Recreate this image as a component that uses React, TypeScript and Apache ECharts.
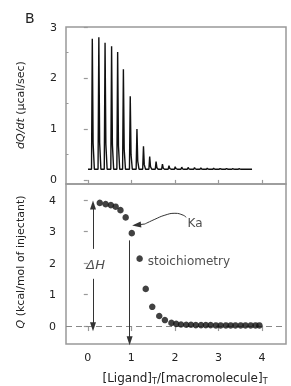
import React, { useEffect, useRef } from "react";
import * as echarts from "echarts";

// Thermogram (top panel): injection peak times (min) and peak heights (µcal/sec)
const spikeTimes = [16.5, 20.6, 24.5, 28.6, 32.4, 36.0, 40.3, 44.5, 48.6, 52.5, 56.5, 60.5, 64.6, 68.5, 72.6, 76.6, 80.6, 84.6, 88.6, 92.6, 96.6, 100.6, 104.6, 108.6];
const spikeHeights = [2.77, 2.8, 2.69, 2.62, 2.51, 2.17, 1.64, 1.0, 0.66, 0.46, 0.36, 0.31, 0.28, 0.26, 0.25, 0.245, 0.24, 0.235, 0.23, 0.23, 0.225, 0.225, 0.22, 0.22];
const baselineLevel = 0.21;
const baselineStart = 13.8;
const baselineEnd = 116.7;

// Binding isotherm (bottom panel)
const molarRatio = [0.275, 0.41, 0.53, 0.64, 0.75, 0.87, 1.01, 1.19, 1.33, 1.48, 1.64, 1.77, 1.92, 2.03, 2.14, 2.26, 2.37, 2.48, 2.6, 2.71, 2.82, 2.94, 3.05, 3.17, 3.28, 3.39, 3.51, 3.62, 3.74, 3.85, 3.94];
const heatQ = [3.91, 3.87, 3.84, 3.79, 3.68, 3.45, 2.95, 2.14, 1.18, 0.61, 0.32, 0.19, 0.1, 0.07, 0.05, 0.04, 0.04, 0.03, 0.03, 0.03, 0.03, 0.02, 0.02, 0.02, 0.02, 0.02, 0.02, 0.02, 0.02, 0.02, 0.02];

// Ka annotation curve
const kaCurve = [[1.31, 3.24], [1.54, 3.39], [1.77, 3.52], [2.0, 3.58], [2.19, 3.52], [2.26, 3.45]];

const ratioTicks = [0, 1, 2, 3, 4];
const dqTicks = [0, 1, 2, 3];
const dqMinorTicks = [0.5, 1.5, 2.5];
const qTicks = [0, 1, 2, 3, 4];

const FONT = "DejaVu Sans, Liberation Sans, Arial, sans-serif";
const TXT = "#222";
const FRAME = "#999";

export default function App() {
  const ref = useRef<HTMLDivElement>(null);
  useEffect(() => {
    if (!ref.current) return;
    const chart = echarts.init(ref.current, undefined, { renderer: "svg" });

    const thermo: number[][] = [[baselineStart, baselineLevel]];
    spikeTimes.forEach((t, i) => {
      const h = spikeHeights[i];
      thermo.push([t - 0.5, baselineLevel], [t, h], [t + 0.5, baselineLevel + (h - baselineLevel) * 0.2], [t + 1.3, baselineLevel]);
    });
    thermo.push([baselineEnd, baselineLevel]);

    const points = molarRatio.map((x, i) => [x, heatQ[i]]);

    const option: any = {
      animation: false,
      textStyle: { fontFamily: FONT },
      grid: [
        { left: 66, top: 27, width: 220, height: 157, show: true, borderColor: FRAME, borderWidth: 1.5, backgroundColor: "transparent" },
        { left: 66, top: 184, width: 220, height: 160, show: true, borderColor: FRAME, borderWidth: 1.5, backgroundColor: "transparent" },
      ],
      xAxis: [
        {
          gridIndex: 0, type: "value", min: -0.5, max: 4.55, position: "bottom",
          axisLine: { show: false }, splitLine: { show: false },
          axisLabel: { show: false },
          axisTick: { show: true, customValues: ratioTicks, length: 5, lineStyle: { color: FRAME, width: 1.2 } },
        },
        { gridIndex: 0, type: "value", min: 0, max: 138, show: false },
        {
          gridIndex: 1, type: "value", min: -0.5, max: 4.55, position: "bottom",
          axisLine: { show: false }, splitLine: { show: false },
          axisTick: { show: true, customValues: ratioTicks, length: 5, lineStyle: { color: FRAME, width: 1.2 } },
          axisLabel: { customValues: ratioTicks, margin: 8, fontSize: 11, color: TXT, fontFamily: FONT },
        },
      ],
      yAxis: [
        {
          gridIndex: 0, type: "value", min: -0.08, max: 3,
          axisLine: { show: false }, splitLine: { show: false },
          axisTick: { show: true, customValues: dqTicks, length: 4, lineStyle: { color: FRAME, width: 1.2 } },
          axisLabel: { customValues: dqTicks, margin: 9, fontSize: 11, color: TXT, fontFamily: FONT },
        },
        {
          gridIndex: 0, type: "value", min: -0.08, max: 3,
          axisLine: { show: false }, splitLine: { show: false },
          axisTick: { show: true, customValues: dqMinorTicks, length: 2.5, lineStyle: { color: FRAME, width: 1 } },
          axisLabel: { show: false },
        },
        {
          gridIndex: 1, type: "value", min: -0.57, max: 4.51,
          axisLine: { show: false }, splitLine: { show: false },
          axisTick: { show: true, customValues: qTicks, length: 4, lineStyle: { color: FRAME, width: 1.2 } },
          axisLabel: { customValues: qTicks, margin: 10, fontSize: 11, color: TXT, fontFamily: FONT },
        },
      ],
      series: [
        {
          type: "line", xAxisIndex: 1, yAxisIndex: 0, data: thermo, showSymbol: false,
          lineStyle: { color: "#111", width: 1.4 }, silent: true,
        },
        {
          type: "scatter", xAxisIndex: 2, yAxisIndex: 2, data: points, symbolSize: 6.5,
          itemStyle: { color: "#111" }, silent: true, z: 5,
          markLine: {
            silent: true, symbol: "none", label: { show: false },
            data: [{ yAxis: 0, lineStyle: { type: [6, 4], color: "#888", width: 1 } }],
          },
        },
        {
          type: "line", xAxisIndex: 2, yAxisIndex: 2, data: kaCurve, smooth: true, showSymbol: false,
          lineStyle: { color: "#333", width: 1 }, silent: true,
          markLine: {
            silent: true, symbol: ["none", "triangle"], symbolSize: [6, 9], label: { show: false },
            lineStyle: { color: "#333", width: 1, type: "solid" },
            data: [
              [{ coord: [0.12, 2.45] }, { coord: [0.12, 3.84] }],
              [{ coord: [0.12, 1.5] }, { coord: [0.12, -0.02] }],
              [{ coord: [0.96, 2.72] }, { coord: [0.96, -0.47] }],
              [{ coord: [1.31, 3.24] }, { coord: [1.12, 3.21] }],
            ],
          },
        },
        {
          type: "scatter", xAxisIndex: 2, yAxisIndex: 2, symbolSize: 0, silent: true,
          data: [
            { value: [0.18, 1.94], label: { show: true, position: "inside", formatter: "ΔH", fontStyle: "italic", fontSize: 13, color: TXT, fontFamily: FONT } },
            { value: [2.29, 3.27], label: { show: true, position: "right", distance: 0, formatter: "Ka", fontSize: 12, color: TXT, fontFamily: FONT } },
            { value: [1.376, 2.06], label: { show: true, position: "right", distance: 0, formatter: "stoichiometry", fontSize: 12, color: TXT, fontFamily: FONT } },
          ],
        },
      ],
      graphic: [
        { type: "text", left: 25, top: 11, style: { text: "B", fontSize: 14, fill: TXT, fontFamily: FONT } },
        {
          type: "text", x: 20, y: 105, rotation: Math.PI / 2,
          style: {
            text: "{i|dQ/dt} (μcal/sec)", align: "center", verticalAlign: "middle",
            fontSize: 11, fill: TXT, fontFamily: FONT,
            rich: { i: { fontStyle: "italic", fontSize: 11, fill: TXT, fontFamily: FONT } },
          },
        },
        {
          type: "text", x: 20, y: 262, rotation: Math.PI / 2,
          style: {
            text: "{i|Q} (kcal/mol of injectant)", align: "center", verticalAlign: "middle",
            fontSize: 11, fill: TXT, fontFamily: FONT,
            rich: { i: { fontStyle: "italic", fontSize: 11, fill: TXT, fontFamily: FONT } },
          },
        },
        {
          type: "text", x: 185, y: 378,
          style: {
            text: "[Ligand]{s|T}/[macromolecule]{s|T}", align: "center", verticalAlign: "middle",
            fontSize: 12, fill: TXT, fontFamily: FONT,
            rich: { s: { fontSize: 8, fill: TXT, fontFamily: FONT, padding: [7, 0, 0, 0] } },
          },
        },
      ],
    };
    chart.setOption(option);
    return () => chart.dispose();
  }, []);
  return <div ref={ref} style={{ position: "fixed", left: 0, top: 0, width: 291, height: 386 }} />;
}
